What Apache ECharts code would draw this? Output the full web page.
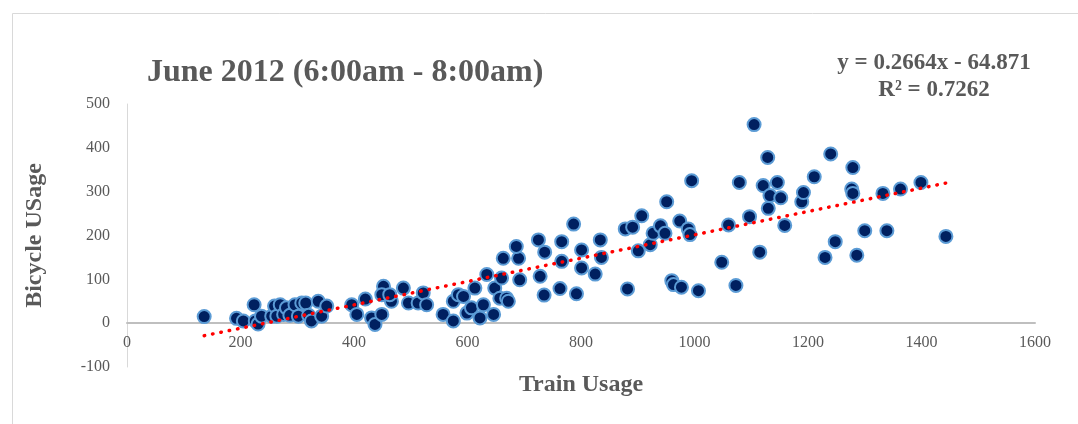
<!DOCTYPE html>
<html>
<head>
<meta charset="utf-8">
<script src="https://cdn.jsdelivr.net/npm/echarts@6/dist/echarts.min.js"></script>
<style>
  html, body { margin: 0; padding: 0; background: #fff; }
  #chart { width: 1078px; height: 424px; }
</style>
</head>
<body>
<div id="chart"></div>
<script>
// train usage (x) and bicycle usage (y)
const trainUsage = [
  136, 193, 205, 224, 226, 231, 237, 255, 260, 264, 270, 276, 281, 287, 296, 302, 308, 315, 320, 325,
  337, 343, 352, 396, 405, 420, 431, 437, 449, 452, 449, 466, 463, 487, 496, 513, 522, 528, 557, 575,
  575, 584, 593, 599, 607, 613, 622, 628, 634, 646, 648, 657, 660, 663, 669, 672, 690, 686, 692, 728,
  725, 736, 735, 766, 766, 763, 787, 792, 801, 801, 825, 834, 836, 878, 891, 882, 901, 907, 922, 927,
  940, 948, 951, 960, 963, 977, 974, 989, 992, 995, 1007, 1048, 1060, 1073, 1079, 1097, 1105, 1115, 1121, 1129,
  1130, 1133, 1146, 1152, 1159, 1189, 1192, 1211, 1230, 1240, 1248, 1279, 1277, 1279, 1286, 1300, 1332, 1339, 1363, 1399,
  1443
]
const bicycleUsage = [
  15, 11, 5, 42, 5, -2, 16, 16, 39, 16, 42, 20, 35, 18, 42, 16, 46, 46, 18, 5,
  50, 16, 39, 42, 20, 55, 12, -3, 20, 84, 65, 50, 65, 80, 46, 46, 69, 42, 20, 5,
  50, 65, 61, 23, 35, 80, 12, 42, 111, 20, 80, 57, 103, 148, 57, 50, 148, 175, 99, 107,
  190, 162, 64, 186, 141, 79, 226, 67, 167, 126, 112, 190, 150, 215, 219, 78, 165, 245, 179, 205,
  222, 205, 277, 97, 88, 82, 233, 215, 202, 325, 74, 139, 224, 86, 321, 243, 453, 162, 314, 378,
  262, 291, 321, 286, 223, 277, 298, 334, 150, 386, 186, 355, 306, 296, 155, 211, 296, 211, 306, 321,
  198
]

// linear trendline as printed on the chart
const trendSlope = 0.2664
const trendIntercept = -64.871
const trendX = [136, 1443]

const yTicks = [-100, 0, 100, 200, 300, 400, 500]
const xTicks = [0, 200, 400, 600, 800, 1000, 1200, 1400, 1600]

const points = trainUsage.map((x, i) => [x, bicycleUsage[i]])
const trendPoints = trendX.map(x => [x, trendSlope * x + trendIntercept])

const serif = '"Liberation Serif", "DejaVu Serif", serif'
const grey = '#595959'

const chart = echarts.init(document.getElementById('chart'))
chart.setOption({
  animation: false,
  backgroundColor: '#fff',
  title: {
    text: 'June 2012 (6:00am - 8:00am)',
    left: 142,
    top: 52,
    textStyle: { fontFamily: serif, fontSize: 32, fontWeight: 'bold', color: grey }
  },
  graphic: [
    {
      type: 'rect',
      shape: { x: 12.5, y: 13.5, width: 1100, height: 500 },
      style: { fill: 'none', stroke: '#d9d9d9', lineWidth: 1 },
      silent: true
    },
    {
      type: 'text',
      x: 934,
      y: 50,
      style: {
        text: 'y = 0.2664x - 64.871\nR² = 0.7262',
        align: 'center',
        textAlign: 'center',
        font: 'bold 23px ' + serif,
        fill: grey,
        lineHeight: 27
      }
    }
  ],
  grid: { left: 127, right: 43, top: 104, bottom: 57, outerBoundsMode: 'none', containLabel: false },
  xAxis: {
    type: 'value',
    min: xTicks[0],
    max: xTicks[xTicks.length - 1],
    interval: 200,
    name: 'Train Usage',
    nameLocation: 'middle',
    nameGap: 6,
    nameMoveOverlap: false,
    nameTextStyle: { fontFamily: serif, fontSize: 24, fontWeight: 'bold', color: grey },
    axisLine: { onZero: true, lineStyle: { color: '#bfbfbf', width: 2 } },
    axisTick: { show: false },
    splitLine: { show: false },
    // labels sit just under the zero line, not at the bottom of the grid
    axisLabel: { fontFamily: serif, fontSize: 16, color: grey, margin: -32, formatter: v => String(v) }
  },
  yAxis: {
    type: 'value',
    min: yTicks[0],
    max: yTicks[yTicks.length - 1],
    interval: 100,
    name: 'Bicycle USage',
    nameLocation: 'middle',
    nameGap: 80,
    nameTextStyle: { fontFamily: serif, fontSize: 24, fontWeight: 'bold', color: grey },
    axisLine: { show: true, lineStyle: { color: '#d9d9d9', width: 1 } },
    axisTick: { show: false },
    splitLine: { show: false },
    axisLabel: { fontFamily: serif, fontSize: 16, color: grey, margin: 17, formatter: v => String(v) }
  },
  series: [
    {
      type: 'scatter',
      data: points,
      symbol: 'circle',
      symbolSize: 13,
      itemStyle: { color: '#002060', borderColor: '#5b9bd5', borderWidth: 2, opacity: 1 },
      z: 2
    },
    {
      type: 'line',
      data: trendPoints,
      symbol: 'none',
      lineStyle: { color: '#ff0000', width: 3.5, type: [0.5, 8], cap: 'round' },
      z: 3
    }
  ]
})
</script>
</body>
</html>
